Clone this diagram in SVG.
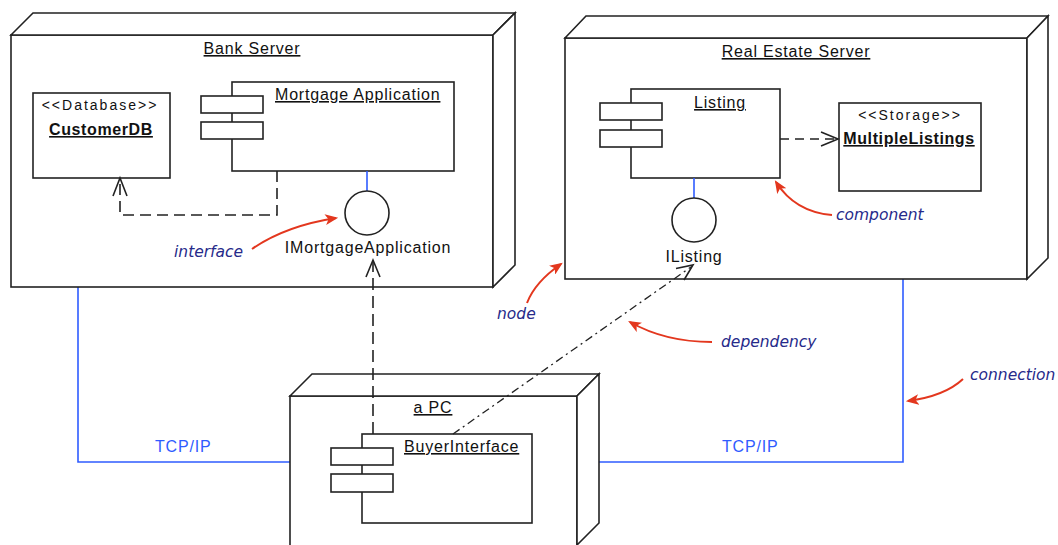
<svg xmlns="http://www.w3.org/2000/svg" width="1058" height="545" viewBox="0 0 1058 545">
<defs>
<style>
.box{fill:#fff;stroke:#222;stroke-width:1.6}
.ln{fill:none;stroke:#222;stroke-width:1.6}
.dash{fill:none;stroke:#222;stroke-width:1.6;stroke-dasharray:11,6}
.dd{fill:none;stroke:#222;stroke-width:1.3;stroke-dasharray:8,4,2,4}
.blue{fill:none;stroke:#2f5cff;stroke-width:1.6}
.red{fill:none;stroke:#e3371e;stroke-width:2;marker-end:url(#ra)}
.t{font-family:"Liberation Sans",Arial,sans-serif;font-size:16px;letter-spacing:0.8px;fill:#111}
.u{text-decoration:underline}
.st{font-family:"Liberation Sans",Arial,sans-serif;font-size:14px;letter-spacing:2px;fill:#111}
.b{font-weight:bold;letter-spacing:0.6px}
.tb{font-family:"Liberation Sans",Arial,sans-serif;font-size:16px;letter-spacing:0.8px;fill:#2f5cff}
.an{font-family:"DejaVu Sans",Verdana,sans-serif;font-size:15.5px;font-style:italic;fill:#262a8a}
</style>
<marker id="ra" viewBox="0 0 12 10" refX="10" refY="5" markerWidth="13" markerHeight="11" markerUnits="userSpaceOnUse" orient="auto">
<path d="M0,0 L12,5 L0,10 L3,5 z" fill="#e3371e"/>
</marker>
</defs>
<rect width="1058" height="545" fill="#fff"/>

<g id="connectors">
<path class="blue" d="M78,287 V462 H290"/>
<path class="blue" d="M903,279 V462 H599"/>
<text class="tb" x="155" y="452">TCP/IP</text>
<text class="tb" x="722" y="452">TCP/IP</text>
</g>

<g id="bank-server">
<rect class="box" x="11" y="35" width="482" height="252"/>
<path class="box" d="M11,35 L33,13 L515,13 L493,35 Z"/>
<path class="box" d="M493,35 L515,13 L515,265 L493,287 Z"/>
<text class="t u" x="252" y="54" text-anchor="middle">Bank Server</text>
</g>

<g id="customer-db">
<rect class="box" x="33" y="93" width="137" height="85"/>
<text class="st" x="100" y="110" text-anchor="middle">&lt;&lt;Database&gt;&gt;</text>
<text class="t b u" x="101" y="135" text-anchor="middle">CustomerDB</text>
</g>

<g id="mortgage-application">
<rect class="box" x="232" y="82" width="222" height="89"/>
<rect class="box" x="201" y="96" width="62" height="17"/>
<rect class="box" x="201" y="122" width="62" height="17"/>
<text class="t u" x="275" y="100">Mortgage Application</text>
</g>

<g id="imortgage-interface">
<line class="blue" x1="367" y1="171" x2="367" y2="191"/>
<circle class="box" cx="367" cy="213" r="22"/>
<text class="t" x="368" y="253" text-anchor="middle">IMortgageApplication</text>
</g>

<g id="real-estate-server">
<rect class="box" x="565" y="38" width="462" height="241"/>
<path class="box" d="M565,38 L586,16 L1048,16 L1027,38 Z"/>
<path class="box" d="M1027,38 L1048,16 L1048,258 L1027,279 Z"/>
<text class="t u" x="796" y="57" text-anchor="middle">Real Estate Server</text>
</g>

<g id="listing">
<rect class="box" x="631" y="89" width="149" height="89"/>
<rect class="box" x="600" y="103" width="62" height="17"/>
<rect class="box" x="600" y="130" width="62" height="17"/>
<text class="t u" x="720" y="108" text-anchor="middle">Listing</text>
</g>

<g id="multiple-listings">
<rect class="box" x="839" y="103" width="142" height="88"/>
<text class="st" x="910" y="120" text-anchor="middle">&lt;&lt;Storage&gt;&gt;</text>
<text class="t b u" x="909" y="144" text-anchor="middle">MultipleListings</text>
</g>

<g id="ilisting-interface">
<line class="blue" x1="694" y1="178" x2="694" y2="198"/>
<circle class="box" cx="694" cy="220" r="22"/>
<text class="t" x="694" y="262" text-anchor="middle">IListing</text>
</g>

<g id="a-pc">
<rect class="box" x="290" y="396" width="287" height="150"/>
<path class="box" d="M290,396 L312,374 L599,374 L577,396 Z"/>
<path class="box" d="M577,396 L599,374 L599,523 L577,545 Z"/>
<text class="t u" x="433" y="413" text-anchor="middle">a PC</text>
</g>

<g id="buyer-interface">
<rect class="box" x="362" y="434" width="170" height="89"/>
<rect class="box" x="331" y="448" width="62" height="17"/>
<rect class="box" x="331" y="474" width="62" height="18"/>
<text class="t u" x="404" y="452">BuyerInterface</text>
</g>

<g id="dependencies">
<path class="dash" d="M277,171 V215 H120 V180"/>
<path class="ln" d="M113,196 L120,178 L127,196"/>
<path class="dash" d="M780,139 H836" style="stroke-dasharray:9,6"/>
<path class="ln" d="M821,132 L838,139 L821,146"/>
<path class="dash" d="M373,434 V262" style="stroke-dasharray:12,6"/>
<path class="ln" d="M366,277 L373,260 L380,277"/>
<path class="dd" d="M453,434 L691,267"/>
<path class="ln" d="M676,268.5 L693,265 L684,280"/>
</g>

<g id="annotations">
<path class="red" d="M252,249 Q285,226 336,218"/>
<text class="an" x="174" y="257">interface</text>
<path class="red" d="M832,215 Q795,212 776,182"/>
<text class="an" x="836" y="220">component</text>
<path class="red" d="M527,303 Q535,282 561,264"/>
<text class="an" x="497" y="319">node</text>
<path class="red" d="M712,342 Q665,342 630,322"/>
<text class="an" x="721" y="347">dependency</text>
<path class="red" d="M963,379 Q945,396 908,401"/>
<text class="an" x="970" y="380">connection</text>
</g>
</svg>
